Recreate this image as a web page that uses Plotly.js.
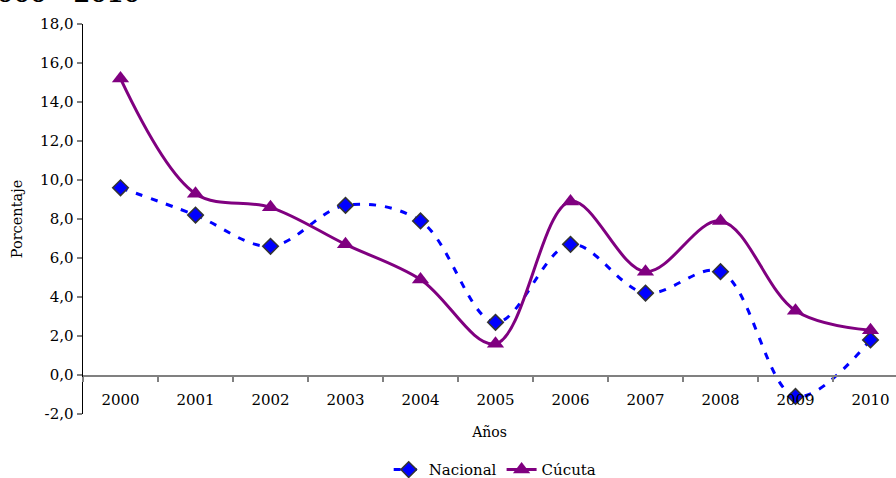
<!DOCTYPE html>
<html>
<head>
<meta charset="utf-8">
<script src="https://cdn.plot.ly/plotly-3.0.1.min.js"></script>
<style>html,body{margin:0;padding:0;background:#fff;}#chart{width:896px;height:478px;}</style>
</head>
<body>
<div id="chart"></div>
<script>
var years = ["2000","2001","2002","2003","2004","2005","2006","2007","2008","2009","2010"];
var nacional = [9.6, 8.2, 6.6, 8.7, 7.9, 2.7, 6.7, 4.2, 5.3, -1.1, 1.8];
var cucuta = [15.2, 9.3, 8.6, 6.7, 4.9, 1.6, 8.9, 5.3, 7.9, 3.3, 2.3];
var yTickVals = [-2, 0, 2, 4, 6, 8, 10, 12, 14, 16, 18];
var yTickText = ["-2,0","0,0","2,0","4,0","6,0","8,0","10,0","12,0","14,0","16,0","18,0"];
var titleText = "2000 - 2010";
var xTitle = "Años";
var yTitle = "Porcentaje";

var F = "DejaVu Serif, serif";

var traces = [
  {
    x: years, y: nacional, name: "Nacional", type: "scatter", mode: "lines+markers",
    line: {color: "#0000FF", width: 3, dash: "7px,9px", shape: "spline", smoothing: 1},
    marker: {symbol: "diamond", size: 12, color: "#0000FF", line: {color: "#333333", width: 1.5}}
  },
  {
    x: years, y: cucuta, name: "Cúcuta", type: "scatter", mode: "lines+markers",
    line: {color: "#800080", width: 3, shape: "spline", smoothing: 1},
    marker: {symbol: "triangle-up", size: 15, color: "#800080"}
  }
];

var layout = {
  width: 896, height: 478,
  margin: {l: 83, r: 0, t: 24, b: 64, autoexpand: false},
  paper_bgcolor: "#fff", plot_bgcolor: "#fff",
  font: {family: F, size: 15, color: "#000"},
  showlegend: true,
  legend: {orientation: "h", x: 0.507, xanchor: "center", yref: "container", y: 0.017, yanchor: "middle",
           font: {family: F, size: 15}, tracegroupgap: 0},
  xaxis: {
    type: "category", range: [-0.5, 10.34], anchor: "free", position: 0.1,
    showline: true, linecolor: "#808080", linewidth: 1.5,
    ticks: "outside", tickson: "boundaries", ticklen: 5, tickcolor: "#808080", tickwidth: 1.5,
    showgrid: false, zeroline: false, ticklabelstandoff: 10,
    tickfont: {family: F, size: 15},
    title: {text: xTitle, font: {family: F, size: 14}, standoff: 19}
  },
  yaxis: {
    range: [-2, 18], tickmode: "array", tickvals: yTickVals, ticktext: yTickText,
    showline: true, linecolor: "#000", linewidth: 1.5,
    ticks: "outside", ticklen: 5, tickcolor: "#808080", tickwidth: 1.5,
    showgrid: false, zeroline: false,
    tickfont: {family: F, size: 15},
    title: {text: yTitle, font: {family: F, size: 14.5}, standoff: 14}
  },
  annotations: [
    {text: "<b>" + titleText + "</b>", xref: "paper", yref: "paper",
     x: -83/813 + 142/813, xanchor: "right", y: 1.036, yanchor: "bottom",
     showarrow: false, font: {family: F, size: 24, color: "#000"}}
  ]
};

Plotly.newPlot("chart", traces, layout, {displayModeBar: false, staticPlot: true});
</script>
</body>
</html>
